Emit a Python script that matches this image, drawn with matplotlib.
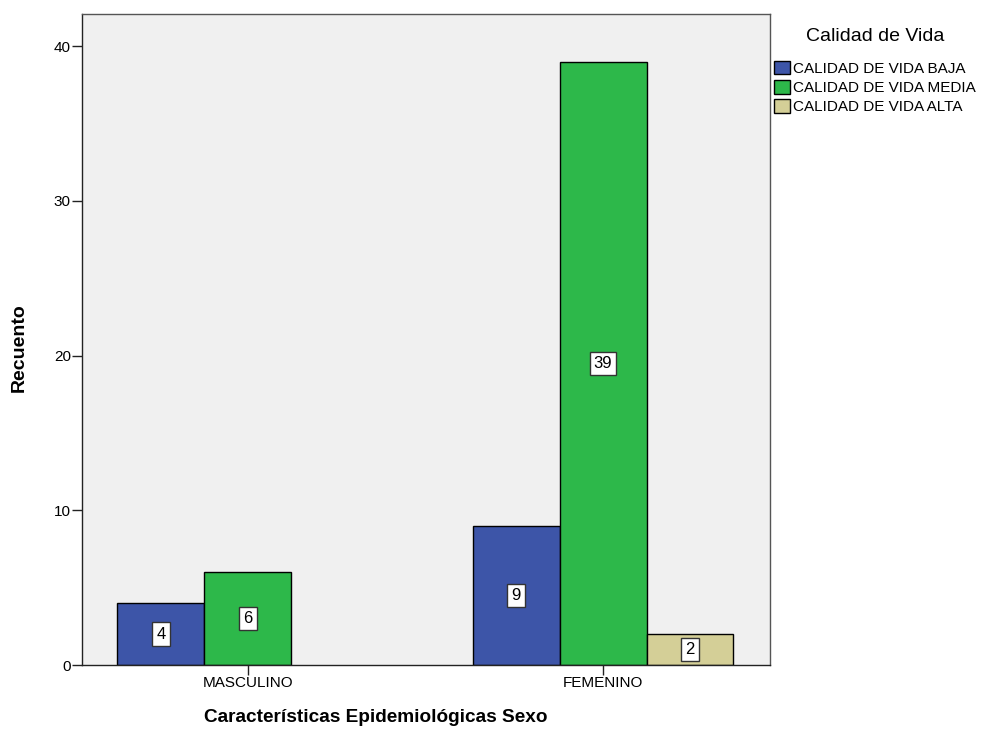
import matplotlib
matplotlib.use('Agg')
import matplotlib.pyplot as plt
import numpy as np

plt.rcParams['font.family'] = ['Liberation Sans', 'DejaVu Sans']

# Recuento por sexo y nivel de calidad de vida
sexos = ['MASCULINO', 'FEMENINO']
niveles = ['CALIDAD DE VIDA BAJA', 'CALIDAD DE VIDA MEDIA', 'CALIDAD DE VIDA ALTA']
baja = [4, 9]
media = [6, 39]
alta = [0, 2]
colores = ['#3D55A8', '#2DB84A', '#D4CF97']

fig = plt.figure(figsize=(9.97, 7.35), dpi=100)
ax = fig.add_axes([0.0822, 0.0952, 0.690, 0.8857])
ax.set_facecolor('#F0F0F0')

x = np.arange(len(sexos))
w = 0.245
for k, (vals, col, lab) in enumerate(zip([baja, media, alta], colores, niveles)):
    pos = x + (k - 1) * w
    vals = np.array(vals, dtype=float)
    # categorías sin casos no se dibujan
    alto = np.where(vals > 0, vals, np.nan)
    ax.bar(pos, alto, width=w, color=col, edgecolor='black', linewidth=1, label=lab, zorder=2)
    for p, v in zip(pos, vals):
        if v > 0:
            ax.text(p, v / 2, f'{v:.0f}', ha='center', va='center', fontsize=12, zorder=3,
                    bbox=dict(boxstyle='square,pad=0.25', facecolor='white',
                              edgecolor='#333333', linewidth=1))

ax.set_xlim(-0.4676, 1.470)
ax.set_ylim(0, 42.07)
ax.set_xticks(x)
ax.set_xticklabels(sexos, fontsize=11)
ax.set_yticks([0, 10, 20, 30, 40])
ax.tick_params(axis='both', direction='out', length=7, width=1, labelsize=11,
               color='#222222', pad=1)
for s in ax.spines.values():
    s.set_color('#555555')
    s.set_linewidth(1)
ax.spines['bottom'].set_color('#222222')
ax.spines['left'].set_color('#222222')

ax.set_ylabel('Recuento', fontsize=14, fontweight='bold', va='center')
ax.yaxis.set_label_coords(-0.0916, 0.487)
ax.set_xlabel('Características Epidemiológicas Sexo', fontsize=13.7, fontweight='bold', va='center')
ax.xaxis.set_label_coords(0.427, -0.0799)

leg = ax.legend(loc='upper left', bbox_to_anchor=(1.0, 0.985), frameon=False,
                title='Calidad de Vida', fontsize=11, title_fontsize=14,
                handlelength=1.0, handleheight=1.0, handletextpad=0.2,
                labelspacing=0.28, borderpad=0.2, borderaxespad=0.1)
leg._legend_box.sep = 11  # más aire entre título y entradas

fig.savefig('out.png', dpi=100, facecolor='white')
